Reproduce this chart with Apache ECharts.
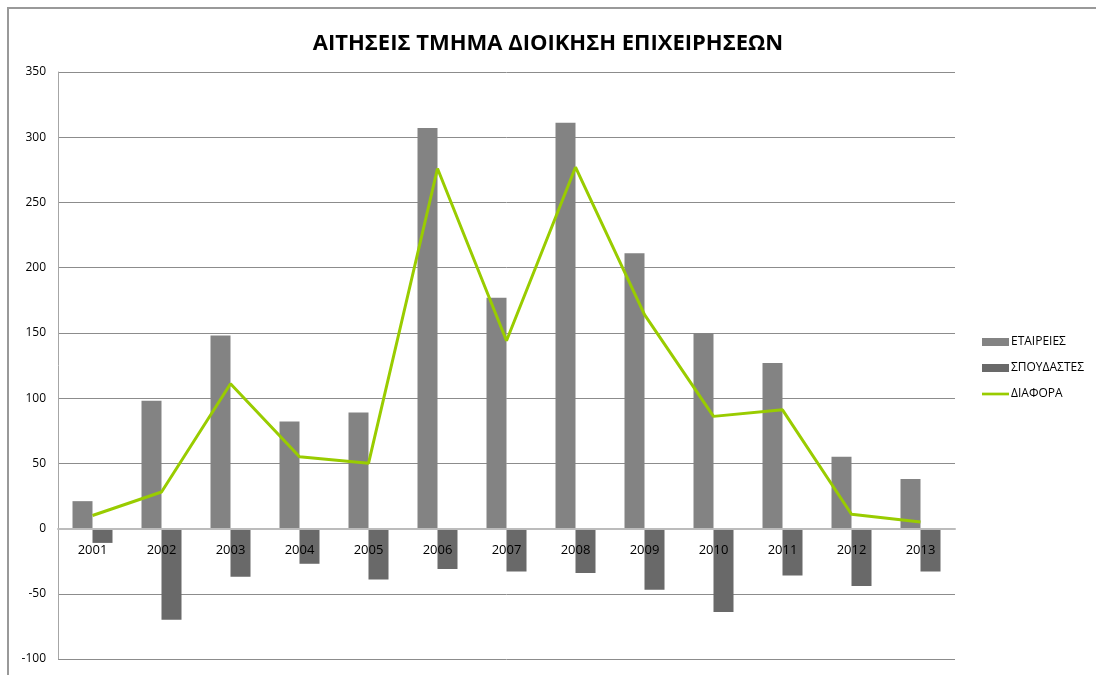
<!DOCTYPE html>
<html lang="el" style="height: 100%">

<head>
  <meta charset="utf-8">
  <style>
    html,
    body {
      margin: 0;
      padding: 0;
      width: 100%;
      height: 100%;
      overflow: hidden;
      background: #fff;
    }
  </style>
</head>

<body>
  <div id="container" style="height: 675px;width: 1096px;"></div>

  <script type="text/javascript" src="https://cdn.jsdelivr.net/npm/echarts@6/dist/echarts.min.js"></script>
  <script type="text/javascript">

    var dom = document.getElementById('container');
    var myChart = echarts.init(dom, null, {
      renderer: 'canvas',
      useDirtyRect: false
    });

    var fontFamily = '"Open Sans", "Noto Sans", sans-serif';
    let legendItem = ['ΕΤΑΙΡΕΙΕΣ', 'ΣΠΟΥΔΑΣΤΕΣ', 'ΔΙΑΦΟΡΑ'];
    let color = ['#838383', '#696969', '#99CC00'];

    let years = ['2001', '2002', '2003', '2004', '2005', '2006', '2007', '2008', '2009', '2010', '2011', '2012', '2013'];
    let companies = [21, 98, 148, 82, 89, 307, 177, 311, 211, 150, 127, 55, 38];
    let students = [-11, -70, -37, -27, -39, -31, -33, -34, -47, -64, -36, -44, -33];
    let difference = [10, 28, 111, 55, 50, 276, 144, 277, 164, 86, 91, 11, 5];

    let yMin = -100, yMax = 350, yStep = 50;

    // grid edges
    let gridTop = 72, gridBottom = 16;
    // the category labels sit on the zero line, not on the bottom edge
    let plotHeight = dom.clientHeight - gridTop - gridBottom;
    let zeroOffset = -plotHeight * (0 - yMin) / (yMax - yMin);

    var option = {
      color: color,
      animation: false,
      title: {
        text: 'ΑΙΤΗΣΕΙΣ ΤΜΗΜΑ ΔΙΟΙΚΗΣΗ ΕΠΙΧΕΙΡΗΣΕΩΝ',
        left: 'center',
        top: 28,
        textStyle: {
          fontFamily: fontFamily,
          fontSize: 22,
          fontWeight: 'bold',
          color: '#000'
        }
      },
      graphic: [{
        type: 'rect',
        shape: { x: 8, y: 8, width: 1200, height: 800 },
        style: { fill: 'none', stroke: '#999', lineWidth: 2 },
        silent: true
      }],
      legend: {
        orient: 'vertical',
        left: 977,
        top: 331,
        data: [
          { name: legendItem[0], icon: 'rect' },
          { name: legendItem[1], icon: 'rect' },
          { name: legendItem[2], icon: 'path://M0,0 H30 V3 H0 Z' }
        ],
        itemWidth: 27,
        itemHeight: 8,
        itemGap: 14,
        textStyle: {
          color: '#000',
          fontFamily: fontFamily,
          fontSize: 12,
          padding: [0, 0, 0, -3]
        }
      },
      grid: {
        left: 58,
        right: 141,
        top: gridTop,
        bottom: gridBottom,
        outerBoundsMode: 'none',
        containLabel: false
      },
      xAxis: [{
        type: 'category',
        data: years,
        offset: zeroOffset,
        z: 10,
        axisTick: { show: false },
        axisLine: {
          show: true,
          onZero: false,
          lineStyle: { color: '#bcbcbc', width: 2 }
        },
        axisLabel: {
          color: '#000',
          fontFamily: fontFamily,
          fontSize: 13,
          margin: 15
        }
      }],
      yAxis: [{
        type: 'value',
        min: yMin,
        max: yMax,
        interval: yStep,
        axisLabel: {
          color: '#000',
          fontFamily: fontFamily,
          fontSize: 12,
          margin: 12
        },
        splitLine: {
          show: true,
          lineStyle: { color: '#8c8c8c', width: 1 }
        },
        axisLine: {
          show: true,
          onZero: false,
          lineStyle: { color: '#a6a6a6', width: 1 }
        },
        axisTick: { show: false }
      }],
      series: [{
        name: legendItem[0],
        type: 'bar',
        barWidth: 20,
        barGap: '0%',
        itemStyle: { color: color[0] },
        data: companies
      }, {
        name: legendItem[1],
        type: 'bar',
        barWidth: 20,
        barGap: '0%',
        itemStyle: { color: color[1] },
        data: students
      }, {
        name: legendItem[2],
        type: 'line',
        symbol: 'none',
        lineStyle: { width: 3, color: color[2] },
        itemStyle: { color: color[2] },
        z: 5,
        data: difference
      }]
    };

    myChart.setOption(option);
    window.addEventListener('resize', myChart.resize);

  </script>
</body>

</html>
